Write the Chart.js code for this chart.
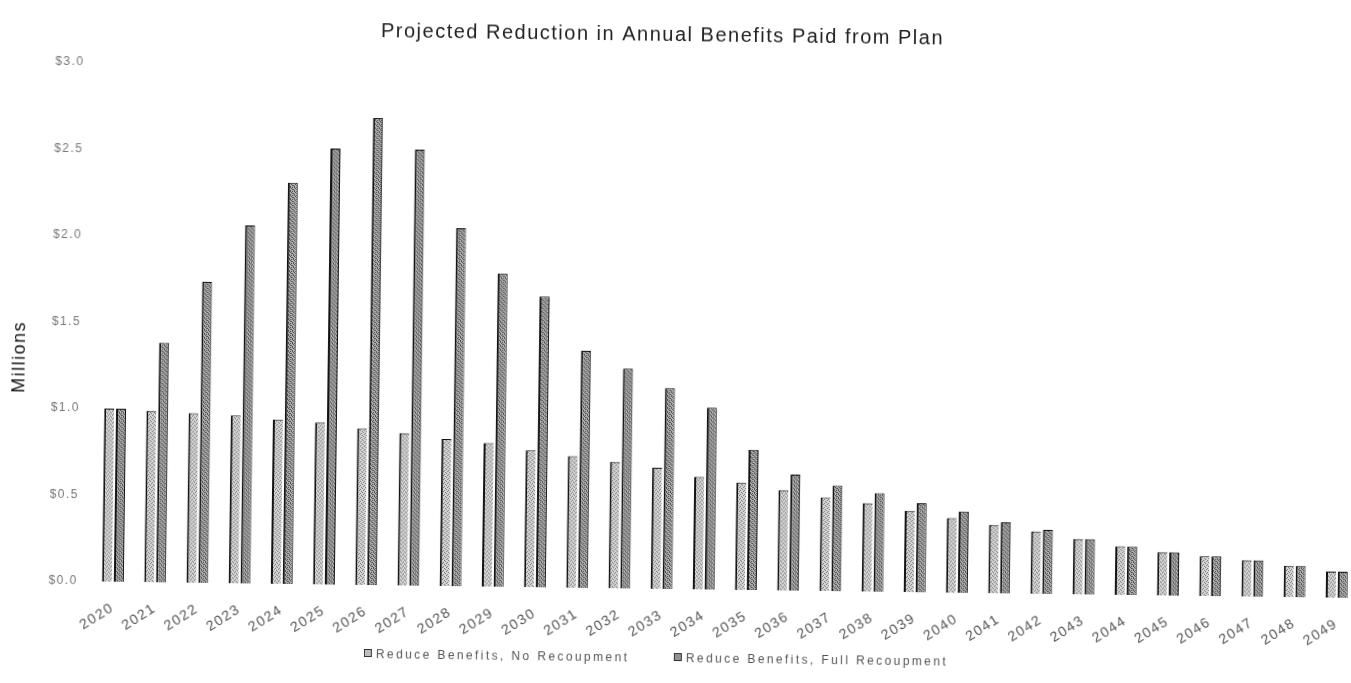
<!DOCTYPE html>
<html>
<head>
<meta charset="utf-8">
<script src="https://cdn.jsdelivr.net/npm/chart.js@4.4.1/dist/chart.umd.min.js"></script>
<style>
html,body{margin:0;padding:0;background:#fff;overflow:hidden;width:1351px;height:683px;}
#wrap{position:absolute;left:0;top:0;width:1370px;height:683px;transform:rotate(0.75deg);transform-origin:675px 341px;}
#c{position:absolute;left:0;top:0;}
.lg{position:absolute;top:651px;height:14px;line-height:14px;font:12px "Liberation Sans",Arial,sans-serif;letter-spacing:2.4px;color:#555;white-space:nowrap;}
.sw{display:inline-block;width:6px;height:6px;margin-right:4px;vertical-align:1px;border:1px solid #333;}
</style>
</head>
<body>
<div id="wrap">
  <canvas id="c" width="1370" height="683"></canvas>
  <div id="legend"></div>
</div>
<script>
const chartTitle = 'Projected Reduction in Annual Benefits Paid from Plan';
const yAxisTitle = 'Millions';
const years = ['2020','2021','2022','2023','2024','2025','2026','2027','2028','2029',
               '2030','2031','2032','2033','2034','2035','2036','2037','2038','2039',
               '2040','2041','2042','2043','2044','2045','2046','2047','2048','2049'];
const seriesNames = ['Reduce Benefits, No Recoupment', 'Reduce Benefits, Full Recoupment'];
const noRecoupment = [1.00,0.99,0.98,0.97,0.95,0.935,0.905,0.88,0.85,0.83,
                      0.79,0.76,0.73,0.70,0.65,0.62,0.58,0.54,0.51,0.47,
                      0.43,0.395,0.36,0.32,0.28,0.25,0.23,0.21,0.18,0.15];
const fullRecoupment = [1.00,1.385,1.74,2.07,2.32,2.52,2.70,2.52,2.07,1.81,
                        1.68,1.37,1.27,1.16,1.05,0.81,0.67,0.61,0.57,0.515,
                        0.47,0.41,0.37,0.32,0.28,0.25,0.23,0.21,0.18,0.15];
const yTickLabels = ['$0.0','$0.5','$1.0','$1.5','$2.0','$2.5','$3.0'];

function makePattern(base, dark, dots){
  const c = document.createElement('canvas'); c.width = 4; c.height = 4;
  const x = c.getContext('2d');
  x.fillStyle = base; x.fillRect(0,0,4,4);
  x.fillStyle = dark; dots.forEach(d => x.fillRect(d[0], d[1], 1, 1));
  return x.createPattern(c, 'repeat');
}
const patA = makePattern('#d6d6d6', '#777777', [[0,0],[2,1],[1,2],[3,3]]);
const patB = makePattern('#b2b2b2', '#4e4e4e', [[0,0],[2,0],[1,1],[3,2],[0,3],[2,2]]);
const swatchColors = ['#bdbdbd', '#939393'];

// HTML legend from series names
const legendEl = document.getElementById('legend');
const legendX = [368, 678];
seriesNames.forEach((n, i) => {
  const d = document.createElement('div');
  d.className = 'lg';
  d.style.left = legendX[i] + 'px';
  const s = document.createElement('span');
  s.className = 'sw';
  s.style.background = swatchColors[i];
  d.appendChild(s);
  d.appendChild(document.createTextNode(n));
  legendEl.appendChild(d);
});

const FONT = '"Liberation Sans", Arial, sans-serif';
const tweaks = {
  id: 'tweaks',
  beforeUpdate(chart){ chart.ctx.letterSpacing = '1.5px'; },
  afterLayout(chart){
    const t = chart.titleBlock;
    if (t) { t.left -= 22; t.right -= 22; }
  },
  beforeDraw(chart){
    const ctx = chart.ctx;
    ctx.letterSpacing = '1.5px';
    ctx.save(); ctx.fillStyle = '#fff'; ctx.fillRect(0,0,chart.width,chart.height); ctx.restore();
    const y = chart.scales.y;
    if (y && !y._patched) {
      const orig = y.drawTitle;
      y.drawTitle = function(){
        const t = this.top, b = this.bottom;
        this.top = t + 36; this.bottom = b + 36;
        orig.apply(this, arguments);
        this.top = t; this.bottom = b;
      };
      y._patched = true;
    }
  }
};

new Chart(document.getElementById('c'), {
  type: 'bar',
  data: {
    labels: years,
    datasets: [
      { label: seriesNames[0], data: noRecoupment, backgroundColor: patA,
        borderColor: '#111', borderWidth: {left: 2, top: 1, right: 0, bottom: 0},
        categoryPercentage: 0.56, barPercentage: 0.84 },
      { label: seriesNames[1], data: fullRecoupment, backgroundColor: patB,
        borderColor: '#111', borderWidth: {left: 2, top: 1, right: 1, bottom: 0},
        categoryPercentage: 0.56, barPercentage: 0.84 }
    ]
  },
  options: {
    responsive: false,
    devicePixelRatio: 1,
    animation: false,
    layout: { padding: { left: 0, right: 9, top: 0, bottom: 0 } },
    plugins: {
      legend: { display: false },
      tooltip: { enabled: false },
      title: {
        display: true, text: chartTitle, color: '#222',
        font: { family: FONT, size: 20, weight: 'normal', lineHeight: 1.2 },
        padding: { top: 23, bottom: 23 }
      }
    },
    scales: {
      x: {
        grid: { display: false, drawTicks: false },
        border: { display: false },
        ticks: { autoSkip: false, maxRotation: 33, minRotation: 33, padding: 18,
                 color: '#555', font: { family: FONT, size: 14 } },
        afterFit(axis){ axis.height = 94; }
      },
      y: {
        min: 0, max: 3,
        grid: { display: false, drawTicks: false },
        border: { display: false },
        ticks: { stepSize: 0.5, padding: 14, color: '#777',
                 font: { family: FONT, size: 12 },
                 callback: (v, i) => yTickLabels[i] },
        title: { display: true, text: yAxisTitle, color: '#111',
                 font: { family: FONT, size: 18 }, padding: { top: 9, bottom: 0 } },
        afterFit(axis){ axis.width = 95; }
      }
    }
  },
  plugins: [tweaks]
});
</script>
</body>
</html>
